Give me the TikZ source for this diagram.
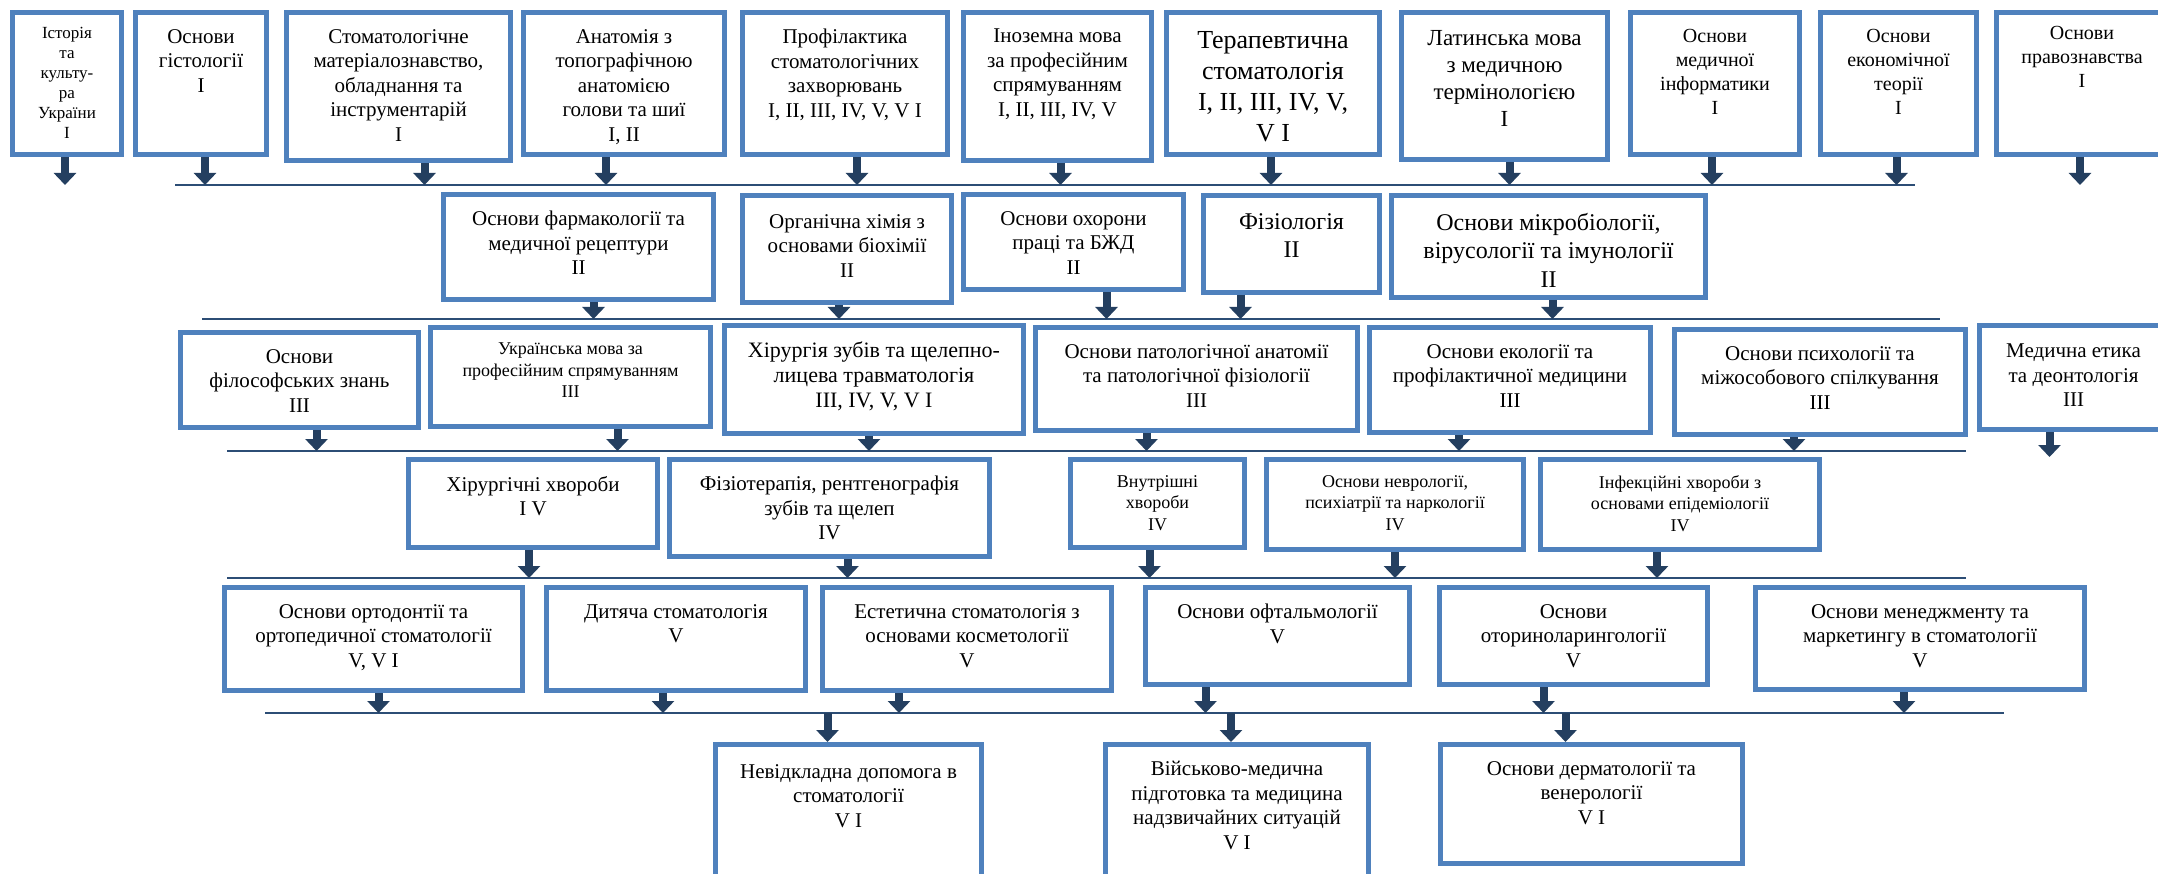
\documentclass[tikz,border=0pt]{standalone}
\usepackage{fontspec}
\setmainfont{Liberation Serif}
\usetikzlibrary{arrows.meta}
\definecolor{boxblue}{HTML}{4F81BD}
\definecolor{arrnavy}{HTML}{243F60}
\definecolor{rulenavy}{HTML}{2C4D75}
\begin{document}
\begin{tikzpicture}[x=1pt,y=-1pt,
    box/.style={draw=boxblue,line width=5pt,fill=white,inner sep=0pt,anchor=north west},
    txt/.style={anchor=north,yshift=-19pt,align=center,inner sep=0pt},
    t17/.style={font=\fontsize{17}{20}\selectfont},
    t18/.style={font=\fontsize{18}{21.5}\selectfont},
    t20/.style={font=\fontsize{20}{24}\selectfont},
    t21/.style={font=\fontsize{21}{24.5}\selectfont},
    t22/.style={font=\fontsize{22}{25}\selectfont},
    t23/.style={font=\fontsize{23}{27}\selectfont},
    t24/.style={font=\fontsize{24}{28.5}\selectfont},
    t26/.style={font=\fontsize{26}{31}\selectfont},
    arr/.style={draw=arrnavy,line width=8pt,-{Triangle[width=22pt,length=12pt]}},
    rule/.style={draw=rulenavy,line width=1.2pt,double=boxblue,double distance=2.2pt}]
  \path[use as bounding box,fill=white] (0,0) rectangle (2158,874);

  \node[box,minimum width=109pt,minimum height=142pt,label={[txt,t17,yshift=2pt]north:{Історія\\та\\культу-\\ра\\України\\I}}] (ist) at (10,10) {};
  \node[box,minimum width=131pt,minimum height=142pt,label={[txt,t21]north:{Основи\\гістології\\I}}] (hist) at (133,10) {};
  \node[box,minimum width=224pt,minimum height=148pt,label={[txt,t21]north:{Стоматологічне\\матеріалознавство,\\обладнання та\\інструментарій\\I}}] (stomat) at (284,10) {};
  \node[box,minimum width=201pt,minimum height=142pt,label={[txt,t21]north:{Анатомія з\\топографічною\\анатомією\\голови та шиї\\I, II}}] (anat) at (521,10) {};
  \node[box,minimum width=205pt,minimum height=142pt,label={[txt,t21]north:{Профілактика\\стоматологічних\\захворювань\\I, II, III, IV, V, V I}}] (profil) at (740,10) {};
  \node[box,minimum width=188pt,minimum height=148pt,label={[txt,t21]north:{Іноземна мова\\за професійним\\спрямуванням\\I, II, III, IV, V}}] (inozem) at (961,10) {};
  \node[box,minimum width=213pt,minimum height=142pt,label={[txt,t26,yshift=-2pt]north:{Терапевтична\\стоматологія\\I, II, III, IV, V,\\V I}}] (terap) at (1164,10) {};
  \node[box,minimum width=206pt,minimum height=147pt,label={[txt,t23,yshift=-1pt]north:{Латинська мова\\з медичною\\термінологією\\I}}] (latyn) at (1399,10) {};
  \node[box,minimum width=169pt,minimum height=142pt,label={[txt,t20]north:{Основи\\медичної\\інформатики\\I}}] (inform) at (1628,10) {};
  \node[box,minimum width=156pt,minimum height=142pt,label={[txt,t20]north:{Основи\\економічної\\теорії\\I}}] (ekon) at (1818,10) {};
  \node[box,minimum width=171pt,minimum height=142pt,label={[txt,t20,yshift=3pt]north:{Основи\\правознавства\\I}}] (pravo) at (1994,10) {};

  \node[box,minimum width=270pt,minimum height=105pt,label={[txt,t21]north:{Основи фармакології та\\медичної рецептури\\II}}] (farm) at (441,192) {};
  \node[box,minimum width=209pt,minimum height=107pt,label={[txt,t21,yshift=-2pt]north:{Органічна хімія з\\основами біохімії\\II}}] (orgkh) at (740,193) {};
  \node[box,minimum width=220pt,minimum height=95pt,label={[txt,t21]north:{Основи охорони\\праці та БЖД\\II}}] (okhor) at (961,192) {};
  \node[box,minimum width=176pt,minimum height=97pt,label={[txt,t24,yshift=-1pt]north:{Фізіологія\\II}}] (fiziol) at (1201,193) {};
  \node[box,minimum width=314pt,minimum height=102pt,label={[txt,t24,yshift=-1pt]north:{Основи мікробіології,\\вірусології та імунології\\II}}] (mikrob) at (1389,193) {};

  \node[box,minimum width=238pt,minimum height=95pt,label={[txt,t21]north:{Основи\\філософських знань\\III}}] (filos) at (178,330) {};
  \node[box,minimum width=280pt,minimum height=99pt,label={[txt,t18,yshift=1pt]north:{Українська мова за\\професійним спрямуванням\\III}}] (ukrmova) at (428,325) {};
  \node[box,minimum width=299pt,minimum height=108pt,label={[txt,t22]north:{Хірургія зубів та щелепно-\\лицева травматологія\\III, IV, V, V I}}] (khirzub) at (722,323) {};
  \node[box,minimum width=322pt,minimum height=103pt,label={[txt,t21]north:{Основи патологічної анатомії\\та патологічної фізіології\\III}}] (patol) at (1033,325) {};
  \node[box,minimum width=281pt,minimum height=105pt,label={[txt,t21]north:{Основи екології та\\профілактичної медицини\\III}}] (ekol) at (1367,325) {};
  \node[box,minimum width=291pt,minimum height=105pt,label={[txt,t21]north:{Основи психології та\\міжособового спілкування\\III}}] (psykh) at (1672,327) {};
  \node[box,minimum width=188pt,minimum height=104pt,label={[txt,t21,yshift=-2pt]north:{Медична етика\\та деонтологія\\III}}] (etyka) at (1977,323) {};

  \node[box,minimum width=249pt,minimum height=88pt,label={[txt,t21]north:{Хірургічні хвороби\\I V}}] (khirkhv) at (406,457) {};
  \node[box,minimum width=320pt,minimum height=97pt,label={[txt,t21]north:{Фізіотерапія, рентгенографія\\зубів та щелеп\\IV}}] (fizter) at (667,457) {};
  \node[box,minimum width=174pt,minimum height=88pt,label={[txt,t18,yshift=1pt]north:{Внутрішні\\хвороби\\IV}}] (vnutr) at (1068,457) {};
  \node[box,minimum width=257pt,minimum height=90pt,label={[txt,t18,yshift=1pt]north:{Основи неврології,\\психіатрії та наркології\\IV}}] (nevrol) at (1264,457) {};
  \node[box,minimum width=279pt,minimum height=90pt,label={[txt,t18,yshift=1pt]north:{Інфекційні хвороби з\\основами епідеміології\\IV}}] (infek) at (1538,457) {};

  \node[box,minimum width=298pt,minimum height=103pt,label={[txt,t21]north:{Основи ортодонтії та\\ортопедичної стоматології\\V, V I}}] (ortod) at (222,585) {};
  \node[box,minimum width=259pt,minimum height=103pt,label={[txt,t21]north:{Дитяча стоматологія\\V}}] (dyt) at (544,585) {};
  \node[box,minimum width=289pt,minimum height=103pt,label={[txt,t21]north:{Естетична стоматологія з\\основами косметології\\V}}] (estet) at (820,585) {};
  \node[box,minimum width=264pt,minimum height=97pt,label={[txt,t21]north:{Основи офтальмології\\V}}] (oftal) at (1143,585) {};
  \node[box,minimum width=268pt,minimum height=97pt,label={[txt,t21]north:{Основи\\оториноларингології\\V}}] (otor) at (1437,585) {};
  \node[box,minimum width=329pt,minimum height=102pt,label={[txt,t21]north:{Основи менеджменту та\\маркетингу в стоматології\\V}}] (menedzh) at (1753,585) {};

  \node[box,minimum width=266pt,minimum height=135pt,label={[txt,t21,yshift=-3pt]north:{Невідкладна допомога в\\стоматології\\V I}}] (nevidkl) at (713,742) {};
  \node[box,minimum width=263pt,minimum height=135pt,label={[txt,t21]north:{Військово-медична\\підготовка та медицина\\надзвичайних ситуацій\\V I}}] (viysk) at (1103,742) {};
  \node[box,minimum width=302pt,minimum height=119pt,label={[txt,t21]north:{Основи дерматології та\\венерології\\V I}}] (derm) at (1438,742) {};

  \coordinate (r1a) at (175,185);
  \coordinate (r1b) at (1915,185);
  \coordinate (r2a) at (202,319);
  \coordinate (r2b) at (1940,319);
  \coordinate (r3a) at (227,451);
  \coordinate (r3b) at (1966,451);
  \coordinate (r4a) at (227,578);
  \coordinate (r4b) at (1966,578);
  \coordinate (r5a) at (265,713);
  \coordinate (r5b) at (2004,713);
  \begin{scope}[rule]
    \draw (r1a) -- (r1b);
    \draw (r2a) -- (r2b);
    \draw (r3a) -- (r3b);
    \draw (r4a) -- (r4b);
    \draw (r5a) -- (r5b);
  \end{scope}

  \begin{scope}[arr]
    \draw ([xshift=-2pt]ist.south) -- ([xshift=-2pt]ist.south |- r1a);
    \draw ([xshift=4pt]hist.south) -- ([xshift=4pt]hist.south |- r1a);
    \draw ([xshift=26pt]stomat.south) -- ([xshift=26pt]stomat.south |- r1a);
    \draw ([xshift=-18pt]anat.south) -- ([xshift=-18pt]anat.south |- r1a);
    \draw ([xshift=12pt]profil.south) -- ([xshift=12pt]profil.south |- r1a);
    \draw ([xshift=3pt]inozem.south) -- ([xshift=3pt]inozem.south |- r1a);
    \draw ([xshift=-2pt]terap.south) -- ([xshift=-2pt]terap.south |- r1a);
    \draw ([xshift=5pt]latyn.south) -- ([xshift=5pt]latyn.south |- r1a);
    \draw ([xshift=-3pt]inform.south) -- ([xshift=-3pt]inform.south |- r1a);
    \draw ([xshift=-2pt]ekon.south) -- ([xshift=-2pt]ekon.south |- r1a);
    \draw ([xshift=-2pt]pravo.south) -- ([xshift=-2pt]pravo.south |- r1a);

    \draw ([xshift=15pt]farm.south) -- ([xshift=15pt]farm.south |- r2a);
    \draw ([xshift=-8pt]orgkh.south) -- ([xshift=-8pt]orgkh.south |- r2a);
    \draw ([xshift=33pt]okhor.south) -- ([xshift=33pt]okhor.south |- r2a);
    \draw ([xshift=-51pt]fiziol.south) -- ([xshift=-51pt]fiziol.south |- r2a);
    \draw ([xshift=4pt]mikrob.south) -- ([xshift=4pt]mikrob.south |- r2a);

    \draw ([xshift=17pt]filos.south) -- ([xshift=17pt]filos.south |- r3a);
    \draw ([xshift=47pt]ukrmova.south) -- ([xshift=47pt]ukrmova.south |- r3a);
    \draw ([xshift=-5pt]khirzub.south) -- ([xshift=-5pt]khirzub.south |- r3a);
    \draw ([xshift=-50pt]patol.south) -- ([xshift=-50pt]patol.south |- r3a);
    \draw ([xshift=-51pt]ekol.south) -- ([xshift=-51pt]ekol.south |- r3a);
    \draw ([xshift=-26pt]psykh.south) -- ([xshift=-26pt]psykh.south |- r3a);
    \draw ([xshift=-24pt]etyka.south) -- ([xshift=-24pt,yshift=-6pt]etyka.south |- r3a);

    \draw ([xshift=-4pt]khirkhv.south) -- ([xshift=-4pt]khirkhv.south |- r4a);
    \draw ([xshift=18pt]fizter.south) -- ([xshift=18pt]fizter.south |- r4a);
    \draw ([xshift=-8pt]vnutr.south) -- ([xshift=-8pt]vnutr.south |- r4a);
    \draw (nevrol.south) -- (nevrol.south |- r4a);
    \draw ([xshift=-23pt]infek.south) -- ([xshift=-23pt]infek.south |- r4a);

    \draw ([xshift=5pt]ortod.south) -- ([xshift=5pt]ortod.south |- r5a);
    \draw ([xshift=-13pt]dyt.south) -- ([xshift=-13pt]dyt.south |- r5a);
    \draw ([xshift=-68pt]estet.south) -- ([xshift=-68pt]estet.south |- r5a);
    \draw ([xshift=-72pt]oftal.south) -- ([xshift=-72pt]oftal.south |- r5a);
    \draw ([xshift=-30pt]otor.south) -- ([xshift=-30pt]otor.south |- r5a);
    \draw ([xshift=-16pt]menedzh.south) -- ([xshift=-16pt]menedzh.south |- r5a);

    \draw ([xshift=-21pt]nevidkl.north |- r5a) -- ([xshift=-21pt]nevidkl.north);
    \draw ([xshift=-6pt]viysk.north |- r5a) -- ([xshift=-6pt]viysk.north);
    \draw ([xshift=-26pt]derm.north |- r5a) -- ([xshift=-26pt]derm.north);
  \end{scope}
\end{tikzpicture}
\end{document}
